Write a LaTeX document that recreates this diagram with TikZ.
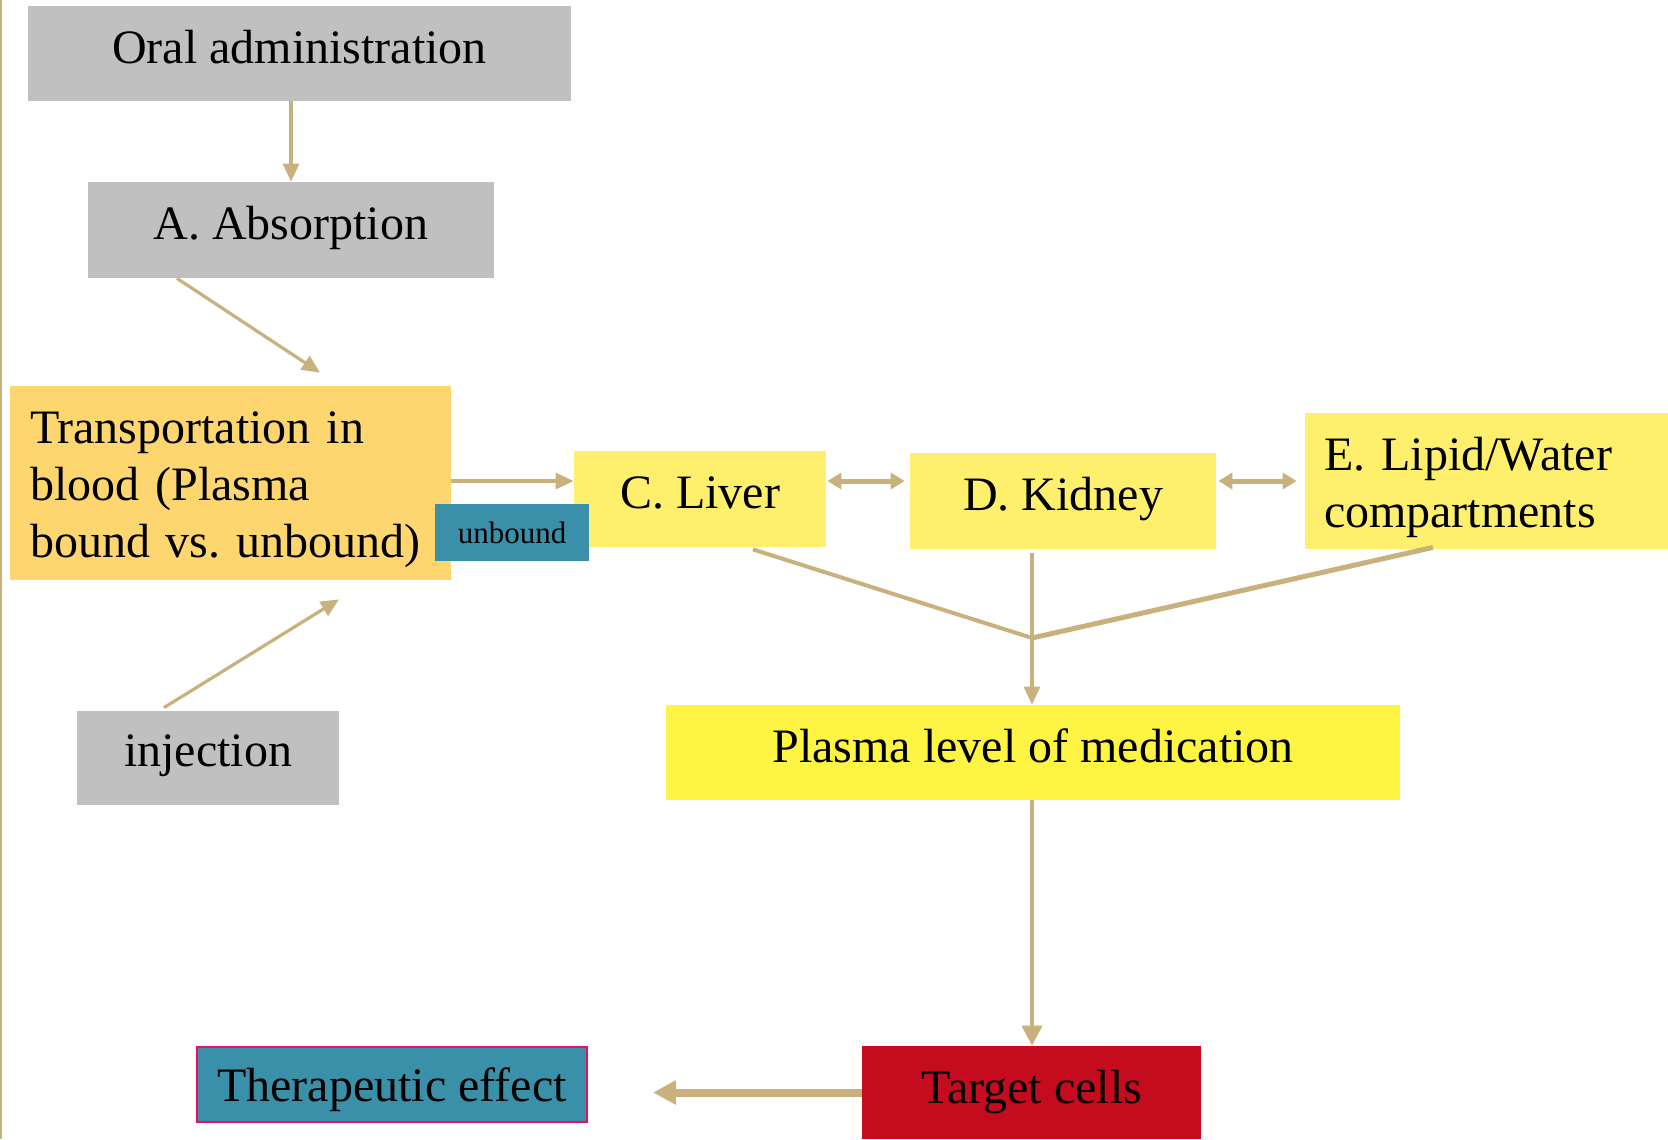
\documentclass[tikz,border=0pt]{standalone}
\usepackage{fontspec}
\setmainfont{Liberation Serif}
\usetikzlibrary{arrows.meta,calc}
\frenchspacing
\definecolor{boxgray}{HTML}{C0C0C0}
\definecolor{boxorange}{HTML}{FDD66F}
\definecolor{boxteal}{HTML}{3A90A8}
\definecolor{boxyellow}{HTML}{FEF06C}
\definecolor{boxbright}{HTML}{FEF443}
\definecolor{boxred}{HTML}{C40C1E}
\definecolor{boxpink}{HTML}{E8106A}
\definecolor{tan}{HTML}{C8B17D}
\newcommand{\lift}[2]{\raisebox{#1}[\height][\depth]{#2}}
\tikzset{
  box/.style={rectangle, inner sep=0pt, align=center, font=\fontsize{24}{28.5}\selectfont},
  txt/.style={inner sep=0pt, align=left, font=\fontsize{24}{28.5}\selectfont},
  arr/.style={draw=tan, line width=1.6pt, -{Triangle[length=9pt,width=8pt]}},
  darr/.style={draw=tan, line width=2.5pt, {Triangle[length=7pt,width=8pt]}-{Triangle[length=7pt,width=8pt]}},
  bigarr/.style={draw=tan, line width=4pt, -{Triangle[length=11.5pt,width=11.5pt]}},
  merge/.style={draw=tan, line width=2pt},
}
\begin{document}
\begin{tikzpicture}[x=0.5pt,y=-0.5pt]
\useasboundingbox (0,0) rectangle (1668,1139);
\fill[white] (0,0) rectangle (1668,1139);
\draw[tan, line width=1pt] (1,0) -- (1,1139);

\node[box, fill=boxgray, minimum width=271.5pt, minimum height=47.5pt] (oral) at (299.5,53.5) {\lift{3.2pt}{Oral administration}};
\node[box, fill=boxgray, minimum width=203pt, minimum height=48pt] (A) at (291,230) {\lift{1pt}{A. Absorption}};
\node[box, fill=boxorange, minimum width=220.5pt, minimum height=97pt] (transport) at (230.5,483) {};
\node[txt, text width=200.5pt] (transporttext) at ([yshift=-3.5pt]transport.center) {Transportation in\\blood (Plasma\\bound vs. unbound)};
\node[box, fill=boxyellow, minimum width=126pt, minimum height=48pt] (liver) at (700,499) {\lift{3.2pt}{C. Liver}};
\node[box, fill=boxteal, minimum width=77pt, minimum height=28.5pt, font=\fontsize{15.5}{18}\selectfont] (unbound) at (512,532.5) {unbound};
\node[box, fill=boxyellow, minimum width=153pt, minimum height=48pt] (kidney) at (1063,501) {\lift{1pt}{D. Kidney}};
\node[box, fill=boxyellow, minimum width=181.5pt, minimum height=68pt] (E) at (1486.5,481) {};
\node[txt, text width=162.5pt] (Etext) at ([yshift=-3pt]E.center) {E. Lipid/Water\\compartments};
\node[box, fill=boxbright, minimum width=367pt, minimum height=47.5pt] (plasma) at (1033,752.5) {\lift{3.2pt}{Plasma level of medication}};
\node[box, fill=boxgray, minimum width=131pt, minimum height=47pt] (inj) at (208,758) {\lift{1pt}{injection}};
\node[box, fill=boxteal, draw=boxpink, line width=1pt, minimum width=195pt, minimum height=37.5pt] (thera) at (392,1084.5) {\lift{-2.7pt}{Therapeutic effect}};
\node[box, fill=boxred, minimum width=169.5pt, minimum height=46.5pt] (target) at (1031.5,1092.5) {Target cells};

\coordinate (J) at (1032,638);

\draw[arr] (oral.south -| A.north) -- (A.north);
\draw[arr] ([xshift=-57pt]A.south) -- ([xshift=44.75pt,yshift=6.5pt]transport.north);
\draw[arr] ([xshift=-22pt,yshift=1.5pt]inj.north) -- ([xshift=54.25pt,yshift=-9.5pt]transport.south);
\draw[arr] ([yshift=1pt]transport.east) -- ([yshift=1pt]transport.east -| liver.west);
\draw[darr, shorten <=0.5pt, shorten >=2.5pt] ([yshift=9pt]liver.east) -- ([yshift=9pt]liver.east -| kidney.west);
\draw[darr, shorten <=1pt, shorten >=4pt] ([yshift=10pt]kidney.east) -- ([yshift=10pt]kidney.east -| E.west);
\draw[merge] ([xshift=26.5pt,yshift=-1pt]liver.south) -- (J);
\draw[merge, line width=1.6pt] ([xshift=-15.5pt,yshift=-2pt]kidney.south) -- (J);
\draw[merge, line width=2.5pt] ([xshift=-26.75pt,yshift=1pt]E.south) -- (J);
\draw[arr] (J) -- (J |- plasma.north);
\draw[arr, line width=2pt, -{Triangle[length=10pt,width=10pt]}] (plasma.south -| J) -- (J |- target.north);
\draw[bigarr, shorten >=32.5pt] (target.west) -- (target.west -| thera.east);
\end{tikzpicture}
\end{document}
